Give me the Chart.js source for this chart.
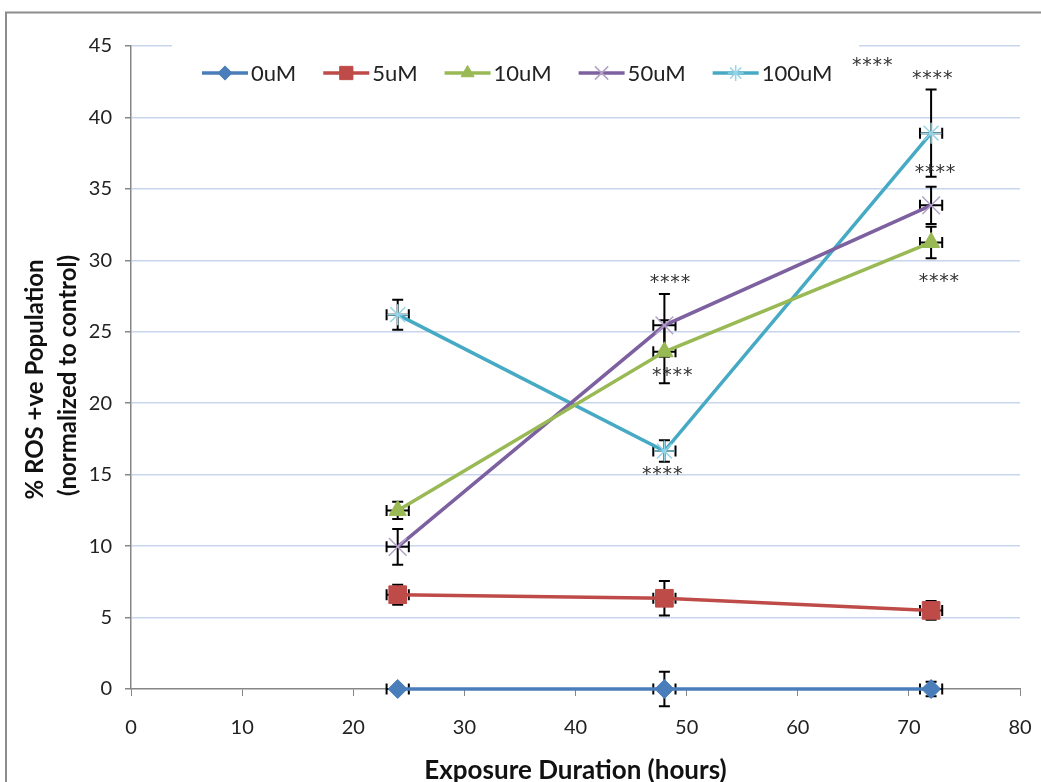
<!DOCTYPE html>
<html>
<head>
<meta charset="utf-8">
<script src="https://cdn.jsdelivr.net/npm/chart.js@4/dist/chart.umd.min.js"></script>
<style>
  html, body { margin: 0; padding: 0; background: #ffffff; }
  #wrap { width: 1041px; height: 782px; position: relative; }
</style>
</head>
<body>
<div id="wrap"><canvas id="c" width="1041" height="782"></canvas></div>
<script>
// ---- data ----
const hours = [24, 48, 72];
const hourErr = [1, 1, 1];
const seriesNames = ['0uM', '5uM', '10uM', '50uM', '100uM'];
const ros0   = [0, 0, 0];
const ros5   = [6.6, 6.35, 5.5];
const ros10  = [12.5, 23.6, 31.25];
const ros50  = [9.95, 25.45, 33.85];
const ros100 = [26.2, 16.65, 38.9];
const err0   = [0.2, 1.2, 0.5];
const err5   = [0.7, 1.2, 0.65];
const err10  = [0.6, 2.2, 1.1];
const err50  = [1.25, 2.2, 1.3];
const err100 = [1.05, 0.75, 3.05];
const xTicks = [0, 10, 20, 30, 40, 50, 60, 70, 80];
const yTicks = [0, 5, 10, 15, 20, 25, 30, 35, 40, 45];
const xTitle = 'Exposure Duration (hours)';
const yTitle = ['% ROS +ve Population', '(normalized to control)'];
// significance labels (data coordinates)
const sigText = ['****', '****', '****', '****', '****', '****', '****'];
const sigX = [66.7, 72.1, 72.35, 72.7, 48.5, 48.7, 47.8];
const sigY = [43.9, 43.0, 36.4, 28.8, 28.7, 22.2, 15.3];

const colors = ['#4A7EBB', '#BE4B48', '#98B954', '#7D60A0', '#46AAC5'];
const markerColors = ['#4A7EBB', '#BE4B48', '#98B954', '#B3A2C7', '#93D4E6'];
const styles = ['rectRot', 'rect', 'triangle', 'crossRot', 'star'];
const radii = [9.5, 12.5, 10, 12.5, 10.5];
const mBorder = [1, 1, 1, 1.5, 1.5];
const values = [ros0, ros5, ros10, ros50, ros100];
const errs = [err0, err5, err10, err50, err100];

const FONT = 'Lato, "Open Sans", "DejaVu Sans", sans-serif';

const datasets = seriesNames.map((name, i) => ({
  label: name,
  data: hours.map((h, j) => ({ x: h, y: values[i][j] })),
  yErr: errs[i],
  xErr: hourErr,
  showLine: true,
  borderColor: colors[i],
  backgroundColor: markerColors[i],
  borderWidth: 3.5,
  pointStyle: styles[i],
  pointRadius: radii[i],
  pointHoverRadius: radii[i],
  pointBorderColor: markerColors[i],
  pointBackgroundColor: markerColors[i],
  pointBorderWidth: mBorder[i],
  tension: 0,
  clip: false
}));

const errorBars = {
  id: 'errorBars',
  beforeDatasetsDraw(chart) {
    const ctx = chart.ctx, xs = chart.scales.x, ys = chart.scales.y;
    ctx.save();
    ctx.strokeStyle = '#000';
    ctx.lineWidth = 2;
    chart.data.datasets.forEach(ds => {
      ds.data.forEach((p, j) => {
        const px = xs.getPixelForValue(p.x), py = ys.getPixelForValue(p.y);
        const yt = ys.getPixelForValue(p.y + ds.yErr[j]);
        const yb = ys.getPixelForValue(p.y - ds.yErr[j]);
        const xl = xs.getPixelForValue(p.x - ds.xErr[j]);
        const xr = xs.getPixelForValue(p.x + ds.xErr[j]);
        const cw = 5.5;
        ctx.beginPath();
        ctx.moveTo(px, yt); ctx.lineTo(px, yb);
        ctx.moveTo(px - cw, yt); ctx.lineTo(px + cw, yt);
        ctx.moveTo(px - cw, yb); ctx.lineTo(px + cw, yb);
        ctx.moveTo(xl, py); ctx.lineTo(xr, py);
        ctx.moveTo(xl, py - cw); ctx.lineTo(xl, py + cw);
        ctx.moveTo(xr, py - cw); ctx.lineTo(xr, py + cw);
        ctx.stroke();
      });
    });
    ctx.restore();
  }
};

function drawMarker(ctx, style, r, bw, x, y) {
  if (Chart.helpers && Chart.helpers.drawPoint) {
    Chart.helpers.drawPoint(ctx, { pointStyle: style, radius: r, borderWidth: bw, rotation: 0 }, x, y);
  }
}

const customLegendAndNotes = {
  id: 'customLegendAndNotes',
  afterDraw(chart) {
    const ctx = chart.ctx, xs = chart.scales.x, ys = chart.scales.y;
    const area = chart.chartArea;
    ctx.save();
    // legend box (white, covers grid line)
    ctx.fillStyle = '#ffffff';
    ctx.fillRect(172, 38, 687, 62);
    ctx.font = '22px ' + FONT;
    ctx.textBaseline = 'middle';
    ctx.textAlign = 'left';
    let x = 202;
    const ly = 73;
    chart.data.datasets.forEach((ds, i) => {
      ctx.strokeStyle = colors[i];
      ctx.lineWidth = 3.5;
      ctx.beginPath(); ctx.moveTo(x, ly); ctx.lineTo(x + 46, ly); ctx.stroke();
      ctx.fillStyle = markerColors[i];
      ctx.strokeStyle = markerColors[i];
      ctx.lineWidth = mBorder[i];
      drawMarker(ctx, styles[i], radii[i] * 0.75, mBorder[i], x + 23, ly);
      ctx.fillStyle = '#222';
      ctx.fillText(ds.label, x + 49, ly + 1);
      x += 49 + ctx.measureText(ds.label).width + 27;
    });
    // significance marks
    ctx.fillStyle = '#333';
    ctx.font = '19px "DejaVu Sans", sans-serif';
    ctx.textAlign = 'center';
    ctx.textBaseline = 'alphabetic';
    const m = ctx.measureText('*');
    const off = (m.actualBoundingBoxAscent - m.actualBoundingBoxDescent) / 2;
    sigText.forEach((t, k) => {
      const cx = xs.getPixelForValue(sigX[k]);
      const cy = ys.getPixelForValue(sigY[k]);
      const n = t.length, step = 10.3;
      for (let q = 0; q < n; q++) {
        ctx.fillText(t[q], cx + (q - (n - 1) / 2) * step, cy + off);
      }
    });
    // y axis title (two rotated lines)
    ctx.fillStyle = '#111';
    ctx.font = 'bold 24px ' + FONT;
    ctx.textAlign = 'center';
    ctx.textBaseline = 'middle';
    const midY = (area.top + area.bottom) / 2;
    [[35, midY + 12], [68, midY + 8]].forEach((pos, k) => {
      ctx.save();
      ctx.translate(pos[0], pos[1]);
      ctx.rotate(-Math.PI / 2);
      ctx.fillText(yTitle[k], 0, 0);
      ctx.restore();
    });
    // outer frame
    ctx.strokeStyle = '#8c8c8c';
    ctx.lineWidth = 2;
    ctx.strokeRect(6, 12.5, 1200, 1000);
    ctx.restore();
  }
};

new Chart(document.getElementById('c'), {
  type: 'scatter',
  data: { datasets },
  options: {
    responsive: false,
    animation: false,
    devicePixelRatio: 1,
    layout: { padding: { left: 0, top: 46, right: 21, bottom: 0 } },
    plugins: { legend: { display: false }, tooltip: { enabled: false } },
    scales: {
      x: {
        type: 'linear', min: 0, max: 80,
        afterFit(s) { s.height = 93; },
        afterBuildTicks(s) { s.ticks = xTicks.map(v => ({ value: v })); },
        ticks: { font: { family: FONT, size: 20, lineHeight: '46px' }, color: '#222', padding: 9 },
        grid: { drawOnChartArea: false, drawTicks: true, tickLength: 7, tickColor: '#868686', color: '#868686' },
        border: { color: '#868686', width: 1.5 },
        title: { display: true, text: xTitle, color: '#111',
                 font: { family: FONT, size: 26, weight: 'bold', lineHeight: '23px' }, padding: { top: 0, bottom: 0 } }
      },
      y: {
        type: 'linear', min: 0, max: 45,
        afterFit(s) { s.width = 131; },
        afterBuildTicks(s) { s.ticks = yTicks.map(v => ({ value: v })); },
        ticks: { font: { family: FONT, size: 20 }, color: '#222', padding: 13 },
        grid: {
          drawOnChartArea: true, drawTicks: true, tickLength: 6, tickColor: '#868686',
          color: ctx => (ctx.tick && ctx.tick.value === 0) ? 'rgba(0,0,0,0)' : '#C8D5EC',
          lineWidth: 1.5
        },
        border: { color: '#868686', width: 1.5 },
        title: { display: false }
      }
    }
  },
  plugins: [errorBars, customLegendAndNotes]
});
</script>
</body>
</html>
